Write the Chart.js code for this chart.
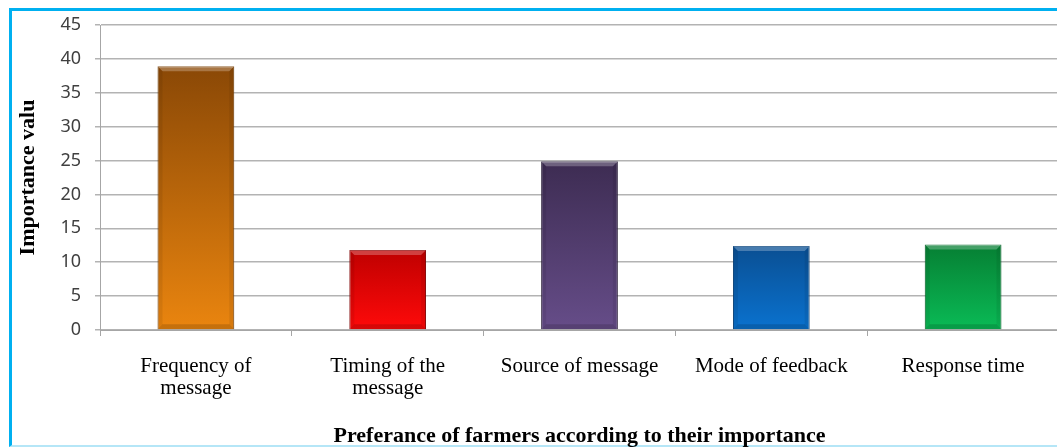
<!DOCTYPE html>
<html>
<head>
<meta charset="utf-8">
<script src="https://cdn.jsdelivr.net/npm/chart.js@4.4.1/dist/chart.umd.min.js"></script>
<style>
  html, body { margin: 0; padding: 0; overflow: hidden; background: #fff; }
  #frame {
    position: absolute; left: 9px; top: 8px; width: 1100px; height: 434px;
    border-top: 3px solid #00B0F0; border-left: 3px solid #00B0F0;
    border-bottom: 2px solid #b5e6f7;
  }
  #wrap { position: absolute; left: 0; top: 0; width: 1062px; height: 448px; }
</style>
</head>
<body>
<div id="frame"></div>
<div id="wrap"><canvas id="chart"></canvas></div>
<script>
var categories = [
    ['Frequency of', 'message'],
    ['Timing of the', 'message'],
    'Source of message',
    'Mode of feedback',
    'Response time'
];
var importance = [38.9, 11.8, 24.9, 12.4, 12.6];
var topColors = ['#8a4806', '#bf0000', '#3d2c52', '#0a4f93', '#067f33'];
var bottomColors = ['#ea850f', '#ff0a0a', '#664d89', '#0a72cf', '#0abb56'];
var edgeColors = ['#7a4208', '#8c0000', '#2f2240', '#08437d', '#056b2b'];

function barGradient(ctx) {
    var chart = ctx.chart;
    var i = ctx.dataIndex;
    if (!chart.chartArea || !chart.scales.y) {
        return bottomColors[i];
    }
    var y = chart.scales.y;
    var g = chart.ctx.createLinearGradient(0, y.getPixelForValue(importance[i]), 0, y.getPixelForValue(0));
    g.addColorStop(0, topColors[i]);
    g.addColorStop(1, bottomColors[i]);
    return g;
}

// little bevel look on each bar, like the office chart
var bevel = {
    id: 'bevel',
    afterDatasetsDraw: function(chart) {
        var c = chart.ctx;
        var b = 5;
        chart.getDatasetMeta(0).data.forEach(function(bar) {
            var l = bar.x - bar.width / 2, r = bar.x + bar.width / 2;
            var t = bar.y, bt = bar.base;
            c.save();
            c.fillStyle = 'rgba(255,255,255,0.25)';
            c.beginPath();
            c.moveTo(l, t); c.lineTo(r, t); c.lineTo(r - b, t + b); c.lineTo(l + b, t + b);
            c.closePath(); c.fill();
            c.fillStyle = 'rgba(0,0,0,0.07)';
            c.beginPath();
            c.moveTo(l, t); c.lineTo(l + b, t + b); c.lineTo(l + b, bt - b); c.lineTo(l, bt);
            c.closePath(); c.fill();
            c.beginPath();
            c.moveTo(r, t); c.lineTo(r - b, t + b); c.lineTo(r - b, bt - b); c.lineTo(r, bt);
            c.closePath(); c.fill();
            c.fillStyle = 'rgba(0,0,0,0.15)';
            c.beginPath();
            c.moveTo(l, bt); c.lineTo(l + b, bt - b); c.lineTo(r - b, bt - b); c.lineTo(r, bt);
            c.closePath(); c.fill();
            c.restore();
        });
    }
};

new Chart(document.getElementById('chart').getContext('2d'), {
    type: 'bar',
    data: {
        labels: categories,
        datasets: [{
            label: 'Importance value',
            data: importance,
            backgroundColor: barGradient,
            borderColor: edgeColors,
            borderWidth: 1,
            barPercentage: 0.4,
            categoryPercentage: 1.0
        }]
    },
    options: {
        responsive: true,
        maintainAspectRatio: false,
        animation: false,
        events: [],
        layout: { padding: { top: 25, right: 3, left: 0, bottom: 0 } },
        plugins: {
            legend: { display: false },
            tooltip: { enabled: false }
        },
        scales: {
            x: {
                offset: true,
                grid: {
                    offset: true,
                    drawOnChartArea: false,
                    drawTicks: true,
                    tickLength: 6,
                    color: '#a6a6a6'
                },
                border: { color: '#a6a6a6' },
                ticks: {
                    color: '#000',
                    padding: 19,
                    maxRotation: 0,
                    autoSkip: false,
                    font: { family: '"Liberation Serif", "Times New Roman", serif', size: 21, lineHeight: 1.05 }
                },
                title: {
                    display: true,
                    text: 'Preferance of farmers according to their importance',
                    color: '#000',
                    padding: { top: 0, bottom: 0 },
                    font: { family: '"Liberation Serif", "Times New Roman", serif', size: 22, weight: 'bold', lineHeight: 1.1 }
                },
                afterFit: function(scale) { scale.height = 118; }
            },
            y: {
                min: 0,
                max: 45,
                ticks: {
                    stepSize: 5,
                    color: '#404040',
                    padding: 14,
                    font: { family: '"Noto Sans", "Open Sans", sans-serif', size: 18 }
                },
                grid: { color: '#b3b3b3', lineWidth: 1.5, tickLength: 5 },
                border: { color: '#a6a6a6' },
                title: {
                    display: true,
                    text: 'Importance valu',
                    color: '#000',
                    padding: { top: 16, bottom: 0 },
                    font: { family: '"Liberation Serif", "Times New Roman", serif', size: 22, weight: 'bold', lineHeight: 1.1 }
                },
                afterFit: function(scale) { scale.width = 100; }
            }
        }
    },
    plugins: [bevel]
});
</script>
</body>
</html>
